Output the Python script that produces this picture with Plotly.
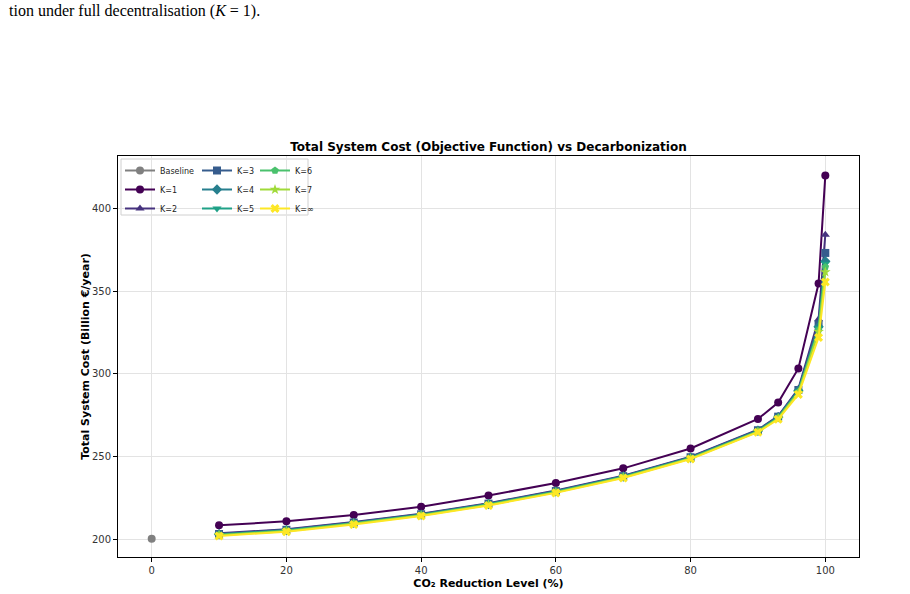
import plotly.graph_objects as go

reduction = [10, 20, 30, 40, 50, 60, 70, 80, 90, 93, 96, 99, 100]
baseline_x = [0]
baseline_y = [200.5]

k1 = [208.6, 211.0, 214.8, 219.8, 226.6, 234.2, 243.0, 255.0, 272.8, 282.7, 303.3, 354.5, 419.8]
k2 = [203.8, 206.2, 210.6, 215.6, 222.0, 229.6, 238.6, 250.0, 266.3, 274.6, 291.0, 333.0, 384.0]
k3 = [203.4, 205.9, 210.3, 215.3, 221.7, 229.3, 238.3, 249.7, 266.0, 274.2, 290.3, 330.0, 373.0]
k4 = [203.2, 205.7, 210.1, 215.1, 221.5, 229.1, 238.1, 249.5, 265.7, 273.9, 289.8, 328.5, 368.0]
k5 = [203.0, 205.5, 209.9, 214.9, 221.3, 228.9, 237.9, 249.3, 265.5, 273.6, 289.4, 327.5, 366.5]
k6 = [202.8, 205.3, 209.7, 214.7, 221.1, 228.7, 237.7, 249.1, 265.3, 273.4, 289.0, 326.5, 364.5]
k7 = [202.6, 205.1, 209.5, 214.5, 220.9, 228.5, 237.5, 248.9, 265.1, 273.1, 288.6, 325.5, 361.5]
kinf = [202.2, 204.8, 209.1, 214.2, 220.6, 228.2, 237.2, 248.6, 264.8, 272.6, 287.6, 322.0, 355.5]

series_names = ["K=1", "K=2", "K=3", "K=4", "K=5", "K=6", "K=7", "K=∞"]
series_vals = [k1, k2, k3, k4, k5, k6, k7, kinf]
colors = ["#440154", "#46327e", "#365c8d", "#277f8e", "#1fa187", "#4ac16d", "#a0da39", "#fde725"]
symbols = ["circle", "triangle-up", "square", "diamond", "triangle-down", "pentagon", "star", "x"]
legend_ids = ["legend", "legend", "legend2", "legend2", "legend2", "legend3", "legend3", "legend3"]

fig = go.Figure()
fig.add_trace(go.Scatter(
    x=baseline_x, y=baseline_y, mode="lines+markers", name="Baseline",
    line=dict(color="#808080", width=2),
    marker=dict(color="#808080", size=8, symbol="circle", line=dict(width=0)),
    legend="legend", legendrank=1))

for i, (nm, vals) in enumerate(zip(series_names, series_vals)):
    fig.add_trace(go.Scatter(
        x=reduction, y=vals, mode="lines+markers", name=nm,
        line=dict(color=colors[i], width=2),
        marker=dict(color=colors[i], size=8, symbol=symbols[i], line=dict(width=0)),
        legend=legend_ids[i], legendrank=i + 2))

W, H = 910, 594
L, R, T, B = 118, 51, 156, 37
pw = W - L - R
ph = H - T - B

def px2x(p):
    return (p - L) / pw

def py2y(p):
    return (H - B - p) / ph

leg_common = dict(font=dict(family="DejaVu Sans", size=8, color="#222"),
                  bgcolor="rgba(0,0,0,0)", borderwidth=0,
                  xanchor="left", yanchor="top", tracegroupgap=0,
                  itemwidth=30)

axis_font = dict(family="DejaVu Sans", size=10, color="#333")

fig.update_layout(
    width=W, height=H,
    margin=dict(l=L, r=R, t=T, b=B, autoexpand=False),
    paper_bgcolor="white", plot_bgcolor="white",
    font=dict(family="DejaVu Sans", color="#000"),
    title=dict(text="<b>Total System Cost (Objective Function) vs Decarbonization</b>",
               x=(L + pw / 2) / W, xanchor="center",
               y=1 - 147 / H, yanchor="middle",
               font=dict(family="DejaVu Sans", size=12, color="#000")),
    legend=dict(x=px2x(120), y=py2y(156), **leg_common),
    legend2=dict(x=px2x(197), y=py2y(156), **leg_common),
    legend3=dict(x=px2x(255), y=py2y(156), **leg_common),
    xaxis=dict(range=[-5, 105], tickvals=[0, 20, 40, 60, 80, 100],
               automargin=False,
               showgrid=True, gridcolor="#e3e3e3", gridwidth=1,
               zeroline=False, showline=True, linecolor="#000", linewidth=1,
               mirror=True, ticks="outside", ticklen=4, tickcolor="#000",
               tickfont=axis_font,
               title=dict(text="<b>CO₂ Reduction Level (%)</b>", standoff=4,
                          font=dict(family="DejaVu Sans", size=11, color="#000"))),
    yaxis=dict(range=[189.5, 431.5], tickvals=[200, 250, 300, 350, 400],
               automargin=False,
               showgrid=True, gridcolor="#e3e3e3", gridwidth=1,
               zeroline=False, showline=True, linecolor="#000", linewidth=1,
               mirror=True, ticks="outside", ticklen=4, tickcolor="#000",
               tickfont=axis_font,
               title=dict(text="<b>Total System Cost (Billion €/year)</b>", standoff=0,
                          font=dict(family="DejaVu Sans", size=11, color="#000"))),
    shapes=[dict(type="rect", xref="paper", yref="paper",
                 x0=px2x(121), x1=px2x(308), y0=py2y(215), y1=py2y(159),
                 line=dict(color="#d0d0d0", width=1), fillcolor="rgba(255,255,255,0.8)",
                 layer="below")],
    annotations=[dict(text="tion under full decentralisation (<i>K</i> = 1).",
                      xref="paper", yref="paper", x=px2x(7), y=py2y(11),
                      xanchor="left", yanchor="middle", showarrow=False,
                      font=dict(family="Liberation Serif", size=16, color="#000"))],
)

fig.write_html("out.html")
